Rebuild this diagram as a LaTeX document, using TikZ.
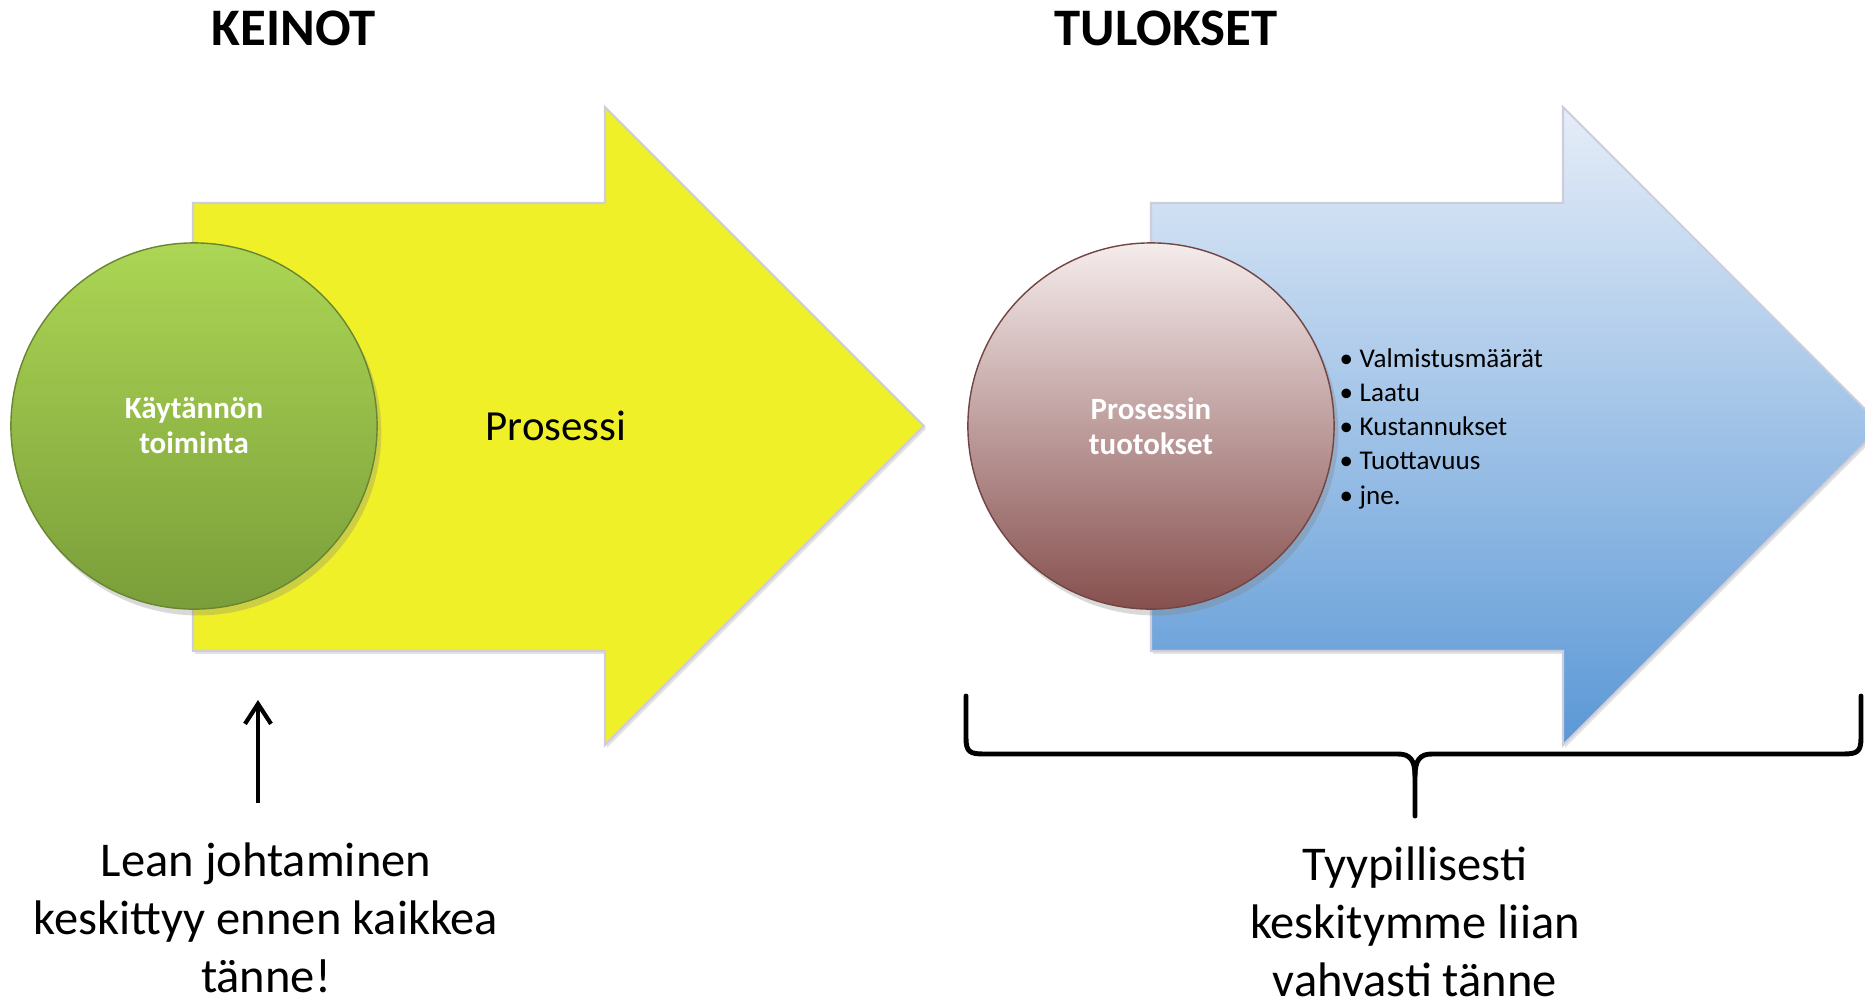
\documentclass[tikz,border=0pt]{standalone}
\usepackage{fontspec}
\setmainfont{Carlito}
\usetikzlibrary{arrows.meta, positioning, shadows}
\definecolor{arrowyellow}{RGB}{240,240,40}
\definecolor{bluetop}{RGB}{229,237,248}
\definecolor{bluebottom}{RGB}{91,152,214}
\definecolor{greentop}{RGB}{172,214,84}
\definecolor{greenbottom}{RGB}{122,158,58}
\definecolor{browntop}{RGB}{245,236,236}
\definecolor{brownbottom}{RGB}{134,80,78}
\definecolor{edgegray}{RGB}{205,205,220}

\begin{document}
\begin{tikzpicture}[x=0.01cm, y=-0.01cm,
    bigarrow/.style={draw=edgegray, line width=0.6pt, drop shadow={shadow xshift=0.6pt, shadow yshift=-0.8pt, opacity=0.22}},
    ball/.style={circle, minimum size=3.66cm, inner sep=0pt, align=center, text=white,
        font=\bfseries\fontsize{8.8}{10}\selectfont, line width=0.4pt,
        drop shadow={shadow xshift=1.2pt, shadow yshift=-1.8pt, opacity=0.3}},
    title/.style={font=\bfseries\fontsize{15}{18}\selectfont, anchor=base, inner sep=0pt},
    remark/.style={align=center, anchor=base, inner sep=0pt, font=\fontsize{13.8}{16.4}\selectfont},
    brace/.style={line width=1.4pt, line cap=round, line join=round},
    pointer/.style={line width=1.2pt, -{Straight Barb[length=2mm, width=2.6mm]}}]
    \useasboundingbox (0,0) rectangle (1865,1005);
    \clip (0,0) rectangle (1865,1005);

    \node[title] (keinot) at (294,45) {KEINOT};
    \node[title] (tulokset) at (1166,45) {TULOKSET};

    \draw[bigarrow, fill=arrowyellow] (193,203) -- (605,203) -- (605,107) -- (924,426)
        -- (605,745) -- (605,651) -- (193,651) -- cycle;
    \draw[bigarrow, top color=bluetop, bottom color=bluebottom] (1151,203) -- (1563,203) -- (1563,107) -- (1882,426)
        -- (1563,745) -- (1563,651) -- (1151,651) -- cycle;

    \node[ball, top color=greentop, bottom color=greenbottom, draw=greenbottom!85!black] (toiminta) at (194,426) {Käytännön\\toiminta};
    \node[ball, top color=browntop, bottom color=brownbottom, draw=brownbottom!85!black] (tuotokset) at (1151,426) {Prosessin\\tuotokset};

    \node[anchor=base, inner sep=0pt, font=\fontsize{12.2}{14}\selectfont] (prosessi) at (556,440) {Prosessi};
    \node[anchor=base west, inner sep=0pt, align=left, font=\fontsize{7.7}{9.73}\selectfont] (mittarit) at (1339,504)
        {\makebox[0.2cm][l]{\textbullet}Valmistusmäärät\\
         \makebox[0.2cm][l]{\textbullet}Laatu\\
         \makebox[0.2cm][l]{\textbullet}Kustannukset\\
         \makebox[0.2cm][l]{\textbullet}Tuottavuus\\
         \makebox[0.2cm][l]{\textbullet}jne.};

    \coordinate (lahto) at (258,803);
    \coordinate (kohde) at (258,700);
    \draw[pointer] (lahto) -- (kohde);
    \node[remark] (lean) at (266,992) {Lean johtaminen\\keskittyy ennen kaikkea\\tänne!};

    \draw[brace] (966,696) -- (966,738) .. controls (966,752) and (970,754) .. (984,754) -- (1398,754)
        .. controls (1410,754) and (1415,760) .. (1415,776) -- (1415,816);
    \draw[brace] (1861,696) -- (1861,738) .. controls (1861,752) and (1857,754) .. (1843,754) -- (1432,754)
        .. controls (1420,754) and (1415,760) .. (1415,776);
    \node[remark] (tyypillisesti) at (1415,996) {Tyypillisesti\\keskitymme liian\\vahvasti tänne};
\end{tikzpicture}
\end{document}
